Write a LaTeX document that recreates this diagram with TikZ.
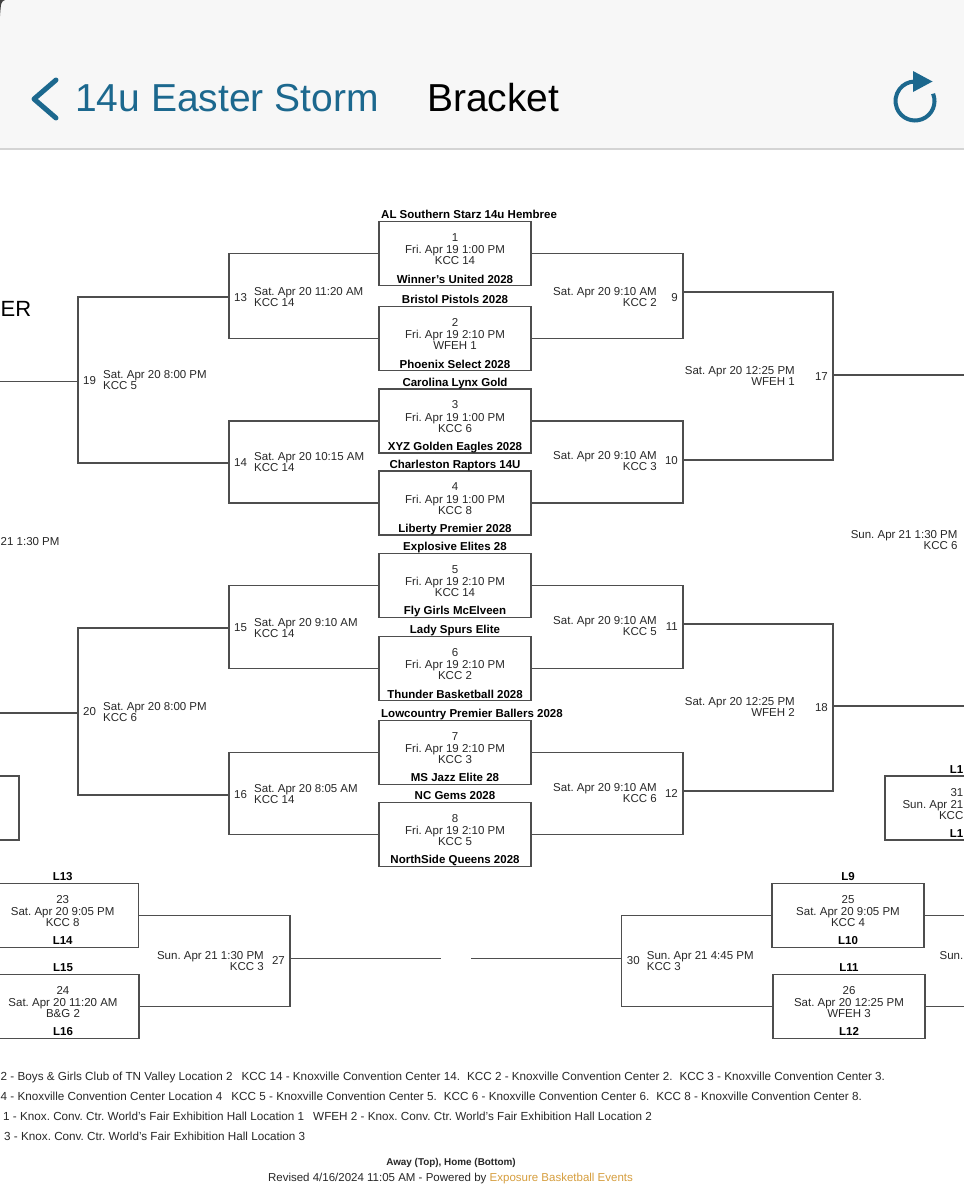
\documentclass[tikz,border=0pt]{standalone}
\usepackage{fontspec}
\setmainfont{Liberation Sans}
\definecolor{linec}{RGB}{78,78,78}
\definecolor{infoc}{RGB}{40,40,40}
\definecolor{bluec}{RGB}{28,104,142}
\definecolor{headc}{RGB}{247,247,247}
\definecolor{headline}{RGB}{212,212,212}
\definecolor{goldc}{RGB}{214,158,62}
\tikzset{
  box/.style={draw=linec, line width=1.4pt, rectangle, minimum width=152pt, minimum height=64pt, inner sep=0pt},
  conn/.style={draw=linec, line width=1.4pt},
  info/.style={font=\fontsize{11.5}{13}\selectfont, text=infoc, inner sep=0pt, anchor=base},
  team/.style={font=\fontsize{11.5}{13}\selectfont\bfseries, text=black, inner sep=0pt, anchor=base},
  legend/.style={font=\fontsize{11.7}{14}\selectfont, text=infoc, inner sep=0pt, anchor=base east},
  headtxt/.style={font=\fontsize{39}{42}\selectfont, inner sep=0pt, anchor=base west},
}
% #1 title options, #2 name, #3 cx, #4 top, #5 top team, #6 number, #7 date, #8 venue, #9 bottom team
\newcommand\gbox[9][]{%
  \node[box] (#2) at (#3, #4+32) {};
  \node[team, #1] (#2t) at (#3, #4-3) {#5};
  \node[info] (#2n) at (#3, #4+19.7) {#6};
  \node[info] (#2d) at (#3, #4+32) {#7};
  \node[info] (#2v) at (#3, #4+43) {#8};
  \node[team] (#2b) at (#3, #4+61.4) {#9};
}
% right-type label: #1 name, #2 jx, #3 ly, #4 num, #5 date, #6 venue, #7 text right x
\newcommand\rlab[7]{%
  \node[info, anchor=base east] (l#1n) at (#2-5, #3+4) {#4};
  \node[info, anchor=base east] (l#1d) at (#7, #3-1.5) {#5};
  \node[info, anchor=base east] (l#1v) at (#7, #3+9.5) {#6};
}
% left-type label: #1 name, #2 jx, #3 ly, #4 num, #5 date, #6 venue
\newcommand\llab[6]{%
  \node[info, anchor=base west] (l#1n) at (#2+5, #3+4) {#4};
  \node[info, anchor=base west] (l#1d) at (#2+25, #3-1.5) {#5};
  \node[info, anchor=base west] (l#1v) at (#2+25, #3+9.5) {#6};
}
\begin{document}
\frenchspacing
\begin{tikzpicture}[x=1pt, y=-1pt]
\useasboundingbox (0,0) rectangle (964,1200);
\fill[white] (0,0) rectangle (964,1200);
% header
\fill[headc] (0,0) rectangle (964,148);
\draw[headline, line width=2pt] (0,149) -- (964,149);
\fill[black!75] (0,0) -- (5,0) .. controls (1,2) .. (0,16) -- cycle;
\draw[bluec, line width=5pt, line cap=round, line join=round] (56,80) -- (34,99) -- (56,118);
\node[headtxt, text=bluec] (ttl) at (75,111) {14u Easter Storm};
\node[headtxt, text=black] (brk) at (427,111) {Bracket};
\draw[bluec, line width=4pt] ([shift={(-22:19.5)}]915,101) arc[start angle=-22, end angle=268, radius=19.5];
\fill[bluec] (913,71) -- (932.5,81.5) -- (913,92) -- cycle;

% first-round boxes
\gbox[anchor=base west, xshift=-74pt]{b1}{455}{221.7}{AL Southern Starz 14u Hembree}{1}{Fri. Apr 19 1:00 PM}{KCC 14}{Winner's United 2028}
\gbox{b2}{455}{306.7}{Bristol Pistols 2028}{2}{Fri. Apr 19 2:10 PM}{WFEH 1}{Phoenix Select 2028}
\gbox{b3}{455}{389}{Carolina Lynx Gold}{3}{Fri. Apr 19 1:00 PM}{KCC 6}{XYZ Golden Eagles 2028}
\gbox{b4}{455}{471}{Charleston Raptors 14U}{4}{Fri. Apr 19 1:00 PM}{KCC 8}{Liberty Premier 2028}
\gbox{b5}{455}{553.3}{Explosive Elites 28}{5}{Fri. Apr 19 2:10 PM}{KCC 14}{Fly Girls McElveen}
\gbox{b6}{455}{636.7}{Lady Spurs Elite}{6}{Fri. Apr 19 2:10 PM}{KCC 2}{Thunder Basketball 2028}
\gbox[anchor=base west, xshift=-74pt]{b7}{455}{720.3}{Lowcountry Premier Ballers 2028}{7}{Fri. Apr 19 2:10 PM}{KCC 3}{MS Jazz Elite 28}
\gbox{b8}{455}{802.3}{NC Gems 2028}{8}{Fri. Apr 19 2:10 PM}{KCC 5}{NorthSide Queens 2028}

% consolation boxes
\gbox{b23}{62.7}{883.3}{L13}{23}{Sat. Apr 20 9:05 PM}{KCC 8}{L14}
\gbox{b24}{63}{974.3}{L15}{24}{Sat. Apr 20 11:20 AM}{B\&G 2}{L16}
\gbox{b25}{848}{883.3}{L9}{25}{Sat. Apr 20 9:05 PM}{KCC 4}{L10}
\gbox{b26}{849}{974.3}{L11}{26}{Sat. Apr 20 12:25 PM}{WFEH 3}{L12}

% partial boxes at the edges
\node[box] (p1) at (-57,808) {};
\node[box] (p2) at (961,808) {};
\node[team, anchor=base east] (p2t) at (963.5,773) {L1};
\node[info, anchor=base east] (p2n) at (963.5,796) {31};
\node[info, anchor=base east] (p2d) at (963.5,808) {Sun. Apr 21};
\node[info, anchor=base east] (p2v) at (963.5,819) {KCC};
\node[team, anchor=base east] (p2b) at (963.5,837.4) {L1};

% junctions
\coordinate (j9) at (683,292);
\coordinate (j10) at (683,460);
\coordinate (j11) at (683,624);
\coordinate (j12) at (683,791);
\coordinate (j17) at (833,375);
\coordinate (j18) at (833,706);
\coordinate (e17) at (966,375);
\coordinate (e18) at (966,706);
\coordinate (j13) at (229,297);
\coordinate (j14) at (229,463);
\coordinate (j15) at (229,628);
\coordinate (j16) at (229,795);
\coordinate (j19) at (78,381.5);
\coordinate (j20) at (78,713);
\coordinate (e19) at (-2,381.5);
\coordinate (e20) at (-2,713);
\coordinate (j27) at (290,958.7);
\coordinate (g27) at (441,958.7);
\coordinate (g30) at (471,958.7);
\coordinate (j30) at (621.7,958.7);
\coordinate (e25) at (966,915.3);
\coordinate (e26) at (966,1006.3);

% right half of bracket
\draw[conn] (b1.east) -| (j9);
\draw[conn] (b2.east) -| (j9);
\draw[conn] (b3.east) -| (j10);
\draw[conn] (b4.east) -| (j10);
\draw[conn] (b5.east) -| (j11);
\draw[conn] (b6.east) -| (j11);
\draw[conn] (b7.east) -| (j12);
\draw[conn] (b8.east) -| (j12);
\draw[conn] (j9) -| (j17);
\draw[conn] (j10) -| (j17);
\draw[conn] (j11) -| (j18);
\draw[conn] (j12) -| (j18);
\draw[conn] (j17) -- (e17);
\draw[conn] (j18) -- (e18);
% left half of bracket
\draw[conn] (b1.west) -| (j13);
\draw[conn] (b2.west) -| (j13);
\draw[conn] (b3.west) -| (j14);
\draw[conn] (b4.west) -| (j14);
\draw[conn] (b5.west) -| (j15);
\draw[conn] (b6.west) -| (j15);
\draw[conn] (b7.west) -| (j16);
\draw[conn] (b8.west) -| (j16);
\draw[conn] (j13) -| (j19);
\draw[conn] (j14) -| (j19);
\draw[conn] (j15) -| (j20);
\draw[conn] (j16) -| (j20);
\draw[conn] (j19) -- (e19);
\draw[conn] (j20) -- (e20);
% consolation
\draw[conn] (b23.east) -| (j27);
\draw[conn] (b24.east) -| (j27);
\draw[conn] (j27) -- (g27);
\draw[conn] (g30) -- (j30);
\draw[conn] (b25.west) -| (j30);
\draw[conn] (b26.west) -| (j30);
\draw[conn] (b25.east) -- (e25);
\draw[conn] (b26.east) -- (e26);

% game labels
\rlab{9}{683}{297}{9}{Sat. Apr 20 9:10 AM}{KCC 2}{657}
\rlab{10}{683}{460.5}{10}{Sat. Apr 20 9:10 AM}{KCC 3}{657}
\rlab{11}{683}{626}{11}{Sat. Apr 20 9:10 AM}{KCC 5}{657}
\rlab{12}{683}{793}{12}{Sat. Apr 20 9:10 AM}{KCC 6}{657}
\rlab{17}{833}{376}{17}{Sat. Apr 20 12:25 PM}{WFEH 1}{795}
\rlab{18}{833}{707}{18}{Sat. Apr 20 12:25 PM}{WFEH 2}{795}
\rlab{27}{290}{960.5}{27}{Sun. Apr 21 1:30 PM}{KCC 3}{264}
\llab{13}{229}{297}{13}{Sat. Apr 20 11:20 AM}{KCC 14}
\llab{14}{229}{462}{14}{Sat. Apr 20 10:15 AM}{KCC 14}
\llab{15}{229}{627.5}{15}{Sat. Apr 20 9:10 AM}{KCC 14}
\llab{16}{229}{794}{16}{Sat. Apr 20 8:05 AM}{KCC 14}
\llab{19}{78}{380}{19}{Sat. Apr 20 8:00 PM}{KCC 5}
\llab{20}{78}{711.5}{20}{Sat. Apr 20 8:00 PM}{KCC 6}
\llab{30}{621.7}{960.5}{30}{Sun. Apr 21 4:45 PM}{KCC 3}

% edge texts
\node[font=\fontsize{22}{24}\selectfont, text=black, inner sep=0pt, anchor=base west] (er) at (0.5,316) {ER};
\node[info, anchor=base west] (c21) at (0.5,545) {21 1:30 PM};
\node[info, anchor=base east] (c22d) at (957.7,538.3) {Sun. Apr 21 1:30 PM};
\node[info, anchor=base east] (c22v) at (957.7,549) {KCC 6};
\node[info, anchor=base east] (c28) at (963.5,959) {Sun.};

% legend
\node[legend, anchor=base west] (lg1) at (0.5,1080) {2 - Boys \& Girls Club of TN Valley Location 2\hspace{9pt}KCC 14 - Knoxville Convention Center 14.\hspace{7pt}KCC 2 - Knoxville Convention Center 2.\hspace{7pt}KCC 3 - Knoxville Convention Center 3.};
\node[legend, anchor=base west] (lg2) at (0.5,1100) {4 - Knoxville Convention Center Location 4\hspace{9pt}KCC 5 - Knoxville Convention Center 5.\hspace{7pt}KCC 6 - Knoxville Convention Center 6.\hspace{7pt}KCC 8 - Knoxville Convention Center 8.};
\node[legend, anchor=base west] (lg3) at (3,1120) {1 - Knox. Conv. Ctr. World's Fair Exhibition Hall Location 1\hspace{9pt}WFEH 2 - Knox. Conv. Ctr. World's Fair Exhibition Hall Location 2};
\node[legend, anchor=base west] (lg4) at (4,1140) {3 - Knox. Conv. Ctr. World's Fair Exhibition Hall Location 3};
% footer
\node[font=\fontsize{9.9}{11}\selectfont\bfseries, text=infoc, inner sep=0pt, anchor=base] (away) at (451,1165.5) {Away (Top), Home (Bottom)};
\node[font=\fontsize{11.5}{13}\selectfont, text=infoc, inner sep=0pt, anchor=base] (rev) at (450.5,1181) {Revised 4/16/2024 11:05 AM - Powered by \textcolor{goldc}{Exposure Basketball Events}};
\end{tikzpicture}
\end{document}
